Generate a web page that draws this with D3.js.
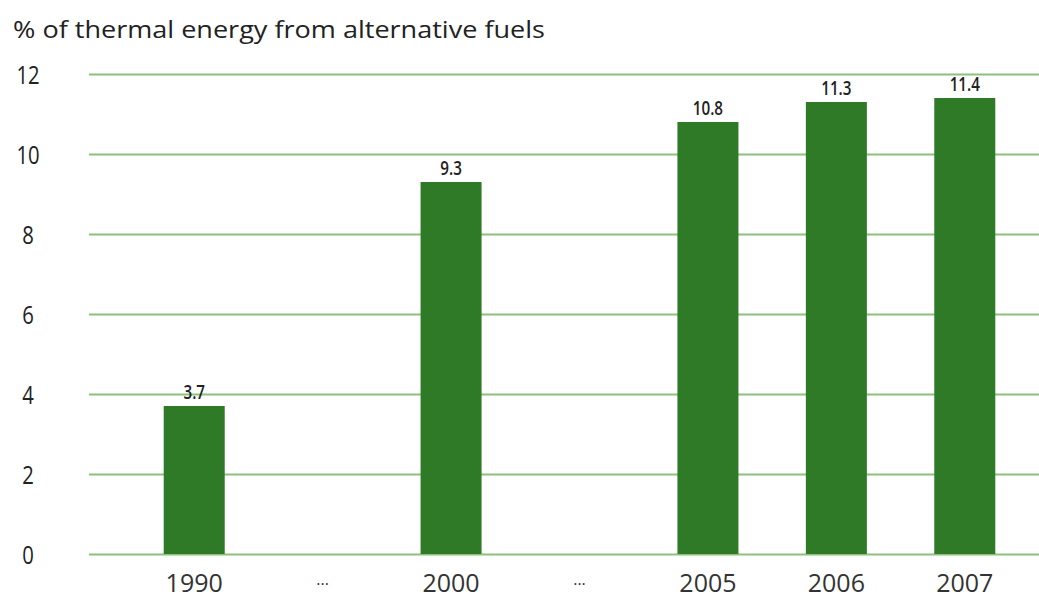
<!DOCTYPE html>
<html><head><meta charset="utf-8">
<script src="https://cdn.jsdelivr.net/npm/d3@7"></script>
<style>body{margin:0;background:#fff}svg{display:block}</style>
</head><body><svg id="c" width="1039" height="598"></svg>
<script>
const categories = ["1990", "gap1", "2000", "gap2", "2005", "2006", "2007"];
const categoryLabels = ["1990", "...", "2000", "...", "2005", "2006", "2007"];
const values = [3.7, null, 9.3, null, 10.8, 11.3, 11.4];
const valueLabels = ["3.7", "", "9.3", "", "10.8", "11.3", "11.4"];
const yTicks = [0, 2, 4, 6, 8, 10, 12];
const title = "% of thermal energy from alternative fuels";

const svg = d3.select("#c");
const font = "'Open Sans', sans-serif";
const x = d3.scaleBand().domain(categories).range([130, 1029]).padding(0);
const y = d3.scaleLinear().domain([0, 12]).range([554, 74]);
const barW = x.bandwidth() * 0.475;
const cx = d => x(d) + x.bandwidth() / 2;

svg.append("text").attr("x", 13).attr("y", 38).text(title)
  .attr("font-family", font).attr("font-size", 24).attr("fill", "#222")
  .attr("textLength", 532).attr("lengthAdjust", "spacingAndGlyphs");

const yAxis = d3.axisLeft(y).tickValues(yTicks).tickSize(-(1039 - 89)).tickFormat(d3.format("d"));
const gy = svg.append("g").attr("transform", "translate(89,0)").call(yAxis);
gy.select(".domain").remove();
gy.selectAll(".tick line").attr("stroke", "#8dbf7d").attr("stroke-width", 2);
gy.selectAll(".tick text").attr("x", 0).attr("dy", "0.36em").attr("text-anchor", "middle")
  .attr("font-family", font).attr("font-size", 26).attr("fill", "#222")
  .attr("transform", "translate(-61,0) scale(0.78,1)");

const data = categories.map((c, i) => ({c, v: values[i], l: valueLabels[i]})).filter(d => d.v !== null);

svg.append("g").selectAll("rect").data(data).join("rect")
  .attr("x", d => cx(d.c) - barW / 2)
  .attr("width", barW)
  .attr("y", d => y(d.v))
  .attr("height", d => y(0) - y(d.v))
  .attr("fill", "#2f7a27");

svg.append("g").selectAll("text").data(data).join("text")
  .attr("x", 0)
  .attr("y", d => y(d.v) - 7)
  .attr("text-anchor", "middle")
  .attr("font-family", font).attr("font-size", 19).attr("font-weight", 600)
  .attr("fill", "#222")
  .attr("transform", d => `translate(${cx(d.c)},0) scale(0.8,1)`)
  .text(d => d.l);

const xAxis = d3.axisBottom(x).tickSize(0).tickFormat((d, i) => categoryLabels[i]);
const gx = svg.append("g").attr("transform", "translate(0,0)").call(xAxis);
gx.select(".domain").remove();
gx.selectAll(".tick text").attr("dy", null)
  .attr("font-family", font).attr("fill", "#333")
  .attr("font-size", (d, i) => categoryLabels[i] === "..." ? 16 : 25)
  .attr("y", (d, i) => categoryLabels[i] === "..." ? 585 : 592);
</script></body></html>
